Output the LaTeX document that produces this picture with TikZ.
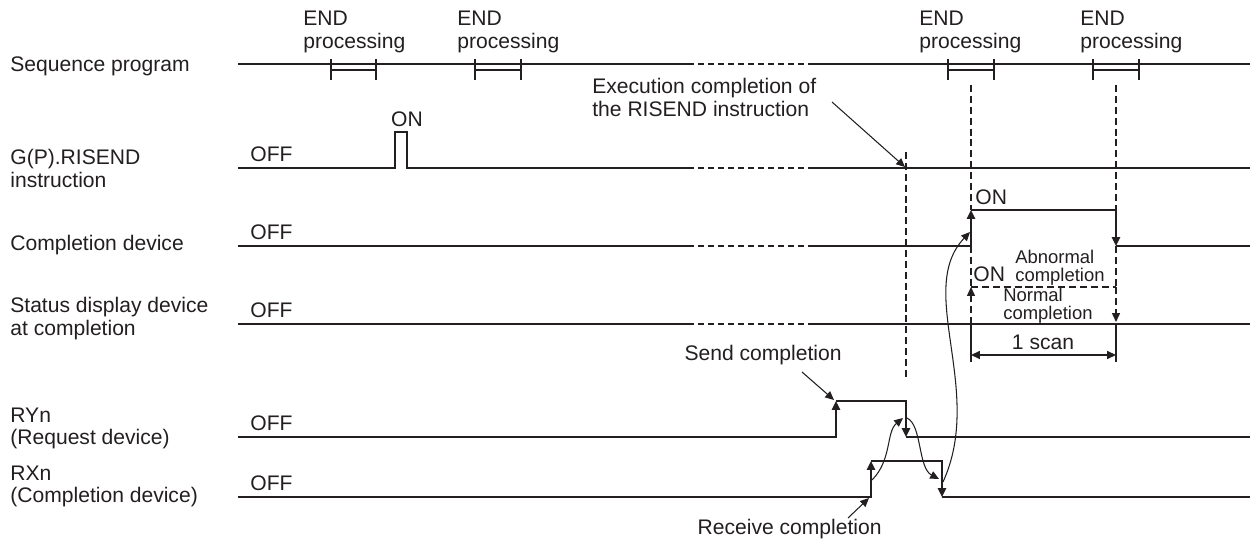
\documentclass[tikz,border=0pt]{standalone}
\usepackage{fontspec}
\setmainfont{Liberation Sans}
\usetikzlibrary{arrows.meta,positioning,calc}
\definecolor{ink}{HTML}{231F20}
\tikzset{
  sig/.style={ink, line width=1.2pt},
  guide/.style={ink, line width=0.6pt, dash pattern=on 4pt off 2.2pt},
  gap/.style={ink, line width=0.6pt, dash pattern=on 3.4pt off 2.3pt},
  thin/.style={ink, line width=0.6pt},
  lbl/.style={ink, inner sep=0pt, font=\fontsize{12}{13}\selectfont, align=left},
  small/.style={ink, inner sep=0pt, font=\fontsize{10.5}{10}\selectfont, align=left},
  tip/.style={-{Triangle[length=5pt,width=4.5pt]}},
}

\begin{document}
\begin{tikzpicture}[x=0.02cm, y=-0.02cm]
    \useasboundingbox (0,0) rectangle (1252,540);

    % Row labels
    \node[lbl, anchor=west] (seq) at (10,66) {Sequence program};
    \node[lbl, anchor=west] (risend) at (10,168.5) {G(P).RISEND\\instruction};
    \node[lbl, anchor=west] (cdev) at (10,245) {Completion device};
    \node[lbl, anchor=west] (stat) at (10,318.5) {Status display device\\at completion};
    \node[lbl, anchor=west] (ryn) at (10,428.5) {RYn\\(Request device)};
    \node[lbl, anchor=west] (rxn) at (10,486.5) {RXn\\(Completion device)};

    % OFF labels
    \foreach \y/\n in {168/off1, 246/off2, 324/off3, 437/off4, 497/off5} {
        \node[lbl, anchor=west] (\n) at (250,\y-14) {OFF};
    }

    % Sequence program with END processing
    \draw[sig] (238,64) -- (688,64);
    \draw[sig] (812,64) -- (1250,64);
    \foreach \a/\b in {331/376, 475/521, 948/994, 1093/1139} {
        \draw[sig] (\a,59) -- (\a,80) (\b,59) -- (\b,80) (\a,70) -- (\b,70);
    }
    \foreach \x/\n in {303/end1, 457/end2, 919/end3, 1080/end4} {
        \node[lbl, anchor=west] (\n) at (\x,32) {END\\processing};
    }

    % Skipped time
    \foreach \y in {64, 168, 246, 324} {
        \draw[gap] (688,\y) -- (812,\y);
    }

    % G(P).RISEND
    \draw[sig] (238,168) -- (395,168) -- (395,132) -- (407,132) -- (407,168) -- (688,168);
    \draw[sig] (812,168) -- (1250,168);
    \node[lbl] (ris_on) at (407,119) {ON};

    % Completion device
    \draw[sig] (238,246) -- (688,246);
    \draw[sig, tip] (812,246) -- (971,246) -- (971,210);
    \draw[sig, tip] (971,210) -- (1116,210) -- (1116,246);
    \draw[sig] (1116,246) -- (1250,246);
    \node[lbl, anchor=west] (cd_on) at (975,197) {ON};

    % Status display device
    \draw[sig] (238,324) -- (688,324);
    \draw[sig] (812,324) -- (1250,324);
    \node[lbl, anchor=west] (st_on) at (973,274) {ON};
    \node[small, anchor=west] (abn) at (1015,268) {Abnormal\\completion};
    \node[small, anchor=west] (nrm) at (1003,305.5) {Normal\\completion};
    \draw[guide] (971,287) -- (1116,287);
    \draw[guide, tip] (971,324) -- (971,287);
    \draw[guide, tip] (1116,287) -- (1116,322);

    % Guides
    \draw[guide] (971,85) -- (971,210);
    \draw[guide] (971,246) -- (971,287);
    \draw[guide] (1116,85) -- (1116,210);
    \draw[guide] (1116,246) -- (1116,287);
    \draw[guide] (906,152) -- (906,380);

    % 1 scan
    \draw[sig, line width=1pt] (971,324) -- (971,362);
    \draw[sig, line width=1pt] (1116,324) -- (1116,362);
    \draw[thin, line width=0.8pt, {Triangle[length=5pt,width=4.5pt]}-{Triangle[length=5pt,width=4.5pt]}] (971,355) -- (1116,355);
    \node[lbl] (scan) at (1043,342) {1 scan};

    % RYn / RXn
    \draw[sig, tip] (238,437) -- (836,437) -- (836,401);
    \draw[sig, tip] (836,401) -- (906,401) -- (906,437);
    \draw[sig] (906,437) -- (1250,437);
    \draw[sig, tip] (238,497) -- (871,497) -- (871,461);
    \draw[sig, tip] (871,461) -- (942,461) -- (942,497);
    \draw[sig] (942,497) -- (1250,497);

    % Handshake curves
    \coordinate (rxrise) at (872,480);
    \coordinate (ryfall) at (903,418);
    \coordinate (ryfall2) at (907,418);
    \coordinate (rxfall) at (939,479);
    \coordinate (rxfall2) at (943,482);
    \coordinate (cdrise) at (970,232);
    \draw[thin, tip] (rxrise) .. controls (892,460) and (886,432) .. (ryfall);
    \draw[thin, tip] (ryfall2) .. controls (922,425) and (918,468) .. (rxfall);
    \draw[thin, tip] (rxfall2) .. controls (985,390) and (915,290) .. (cdrise);

    % Notes
    \node[lbl, anchor=west] (exec) at (592,97.5) {Execution completion of\\the RISEND instruction};
    \coordinate (execfrom) at (832,102);
    \coordinate (execto) at (905,167);
    \draw[thin, tip] (execfrom) -- (execto);

    \node[lbl, anchor=east] (send) at (842,355) {Send completion};
    \coordinate (sendfrom) at (802,372);
    \coordinate (sendto) at (834,400);
    \draw[thin, tip] (sendfrom) -- (sendto);

    \node[lbl, anchor=east] (recv) at (882,529) {Receive completion};
    \coordinate (recvfrom) at (848,518);
    \coordinate (recvto) at (869,498);
    \draw[thin, tip] (recvfrom) -- (recvto);
\end{tikzpicture}
\end{document}
